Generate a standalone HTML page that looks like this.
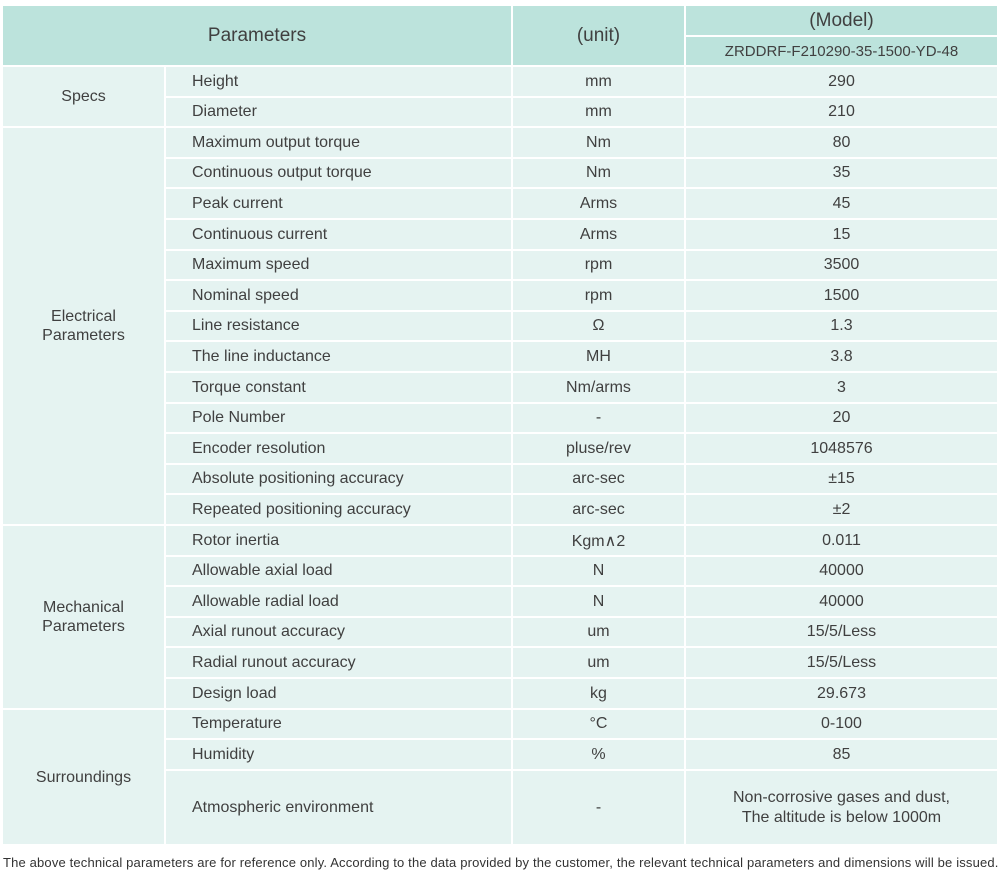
<!DOCTYPE html>
<html><head><meta charset="utf-8"><style>
body{margin:0;width:999px;height:882px;background:#fff;font-family:"Liberation Sans",sans-serif;color:#404040;position:relative;overflow:hidden}
.c{position:absolute;display:flex;align-items:center;box-sizing:border-box;font-size:16px}
.h{background:#bce3dc;justify-content:center;font-size:19px}
.b{background:#e5f3f1}
.ctr{justify-content:center;text-align:center}
.l{padding-left:26px}
.foot{position:absolute;left:3px;top:855px;font-size:13px;white-space:nowrap;color:#333;letter-spacing:0.16px}
</style></head><body>
<div class="c h" style="left:3px;top:6px;width:508px;height:59px">Parameters</div>
<div class="c h" style="left:513px;top:6px;width:171px;height:59px">(unit)</div>
<div class="c h" style="left:686px;top:6px;width:311px;height:29px">(Model)</div>
<div class="c h" style="left:686px;top:37px;width:311px;height:28px;font-size:15px">ZRDDRF-F210290-35-1500-YD-48</div>
<div id="t"></div>
<div class="foot" id="f">The above technical parameters are for reference only. According to the data provided by the customer, the relevant technical parameters and dimensions will be issued.</div>
<script>
var rows=[["Height","mm","290"],["Diameter","mm","210"],["Maximum output torque","Nm","80"],["Continuous output torque","Nm","35"],["Peak current","Arms","45"],["Continuous current","Arms","15"],["Maximum speed","rpm","3500"],["Nominal speed","rpm","1500"],["Line resistance","Ω","1.3"],["The line inductance","MH","3.8"],["Torque constant","Nm/arms","3"],["Pole Number","-","20"],["Encoder resolution","pluse/rev","1048576"],["Absolute positioning accuracy","arc-sec","±15"],["Repeated positioning accuracy","arc-sec","±2"],["Rotor inertia","Kgm∧2","0.011"],["Allowable axial load","N","40000"],["Allowable radial load","N","40000"],["Axial runout accuracy","um","15/5/Less"],["Radial runout accuracy","um","15/5/Less"],["Design load","kg","29.673"],["Temperature","°C","0-100"],["Humidity","%","85"],["Atmospheric environment","-","Non-corrosive gases and dust,<br>The altitude is below 1000m"]];
var h="",y0=66,s=30.6;
function Y(i){return Math.round(y0+i*s);}
rows.forEach(function(r,i){
 var t=Y(i),bt=(i==23)?845:Y(i+1);var ht=bt-t-2;
 h+='<div class="c b l" style="left:166px;top:'+(t+1)+'px;width:345px;height:'+ht+'px">'+r[0]+'</div>';
 h+='<div class="c b ctr" style="left:513px;top:'+(t+1)+'px;width:171px;height:'+ht+'px">'+r[1]+'</div>';
 h+='<div class="c b ctr" style="left:686px;top:'+(t+1)+'px;width:311px;height:'+ht+'px;line-height:20px">'+r[2]+'</div>';
});
var g=[["Specs",0,2],["Electrical<br>Parameters",2,15],["Mechanical<br>Parameters",15,21],["Surroundings",21,24]];
g.forEach(function(a){var t=Y(a[1]),b=a[2]==24?845:Y(a[2]);
 h+='<div class="c b ctr" style="left:3px;top:'+(t+1)+'px;width:161px;height:'+(b-t-2)+'px;line-height:19px">'+a[0]+'</div>';});
document.getElementById("t").innerHTML=h;
</script>
</body></html>
